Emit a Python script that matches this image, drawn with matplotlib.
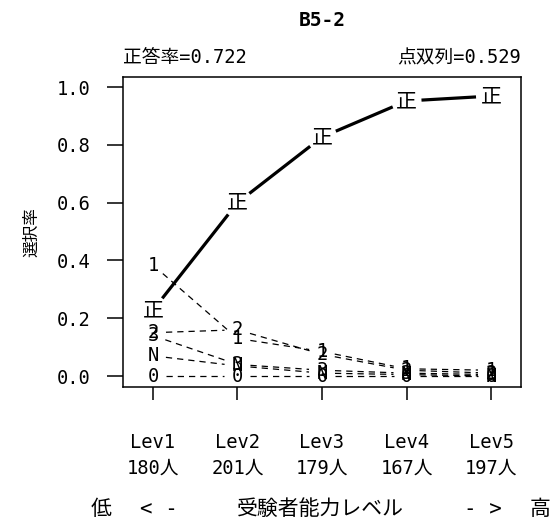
import numpy as np
import matplotlib.pyplot as plt

levels = ['Lev1', 'Lev2', 'Lev3', 'Lev4', 'Lev5']
counts = [180, 201, 179, 167, 197]
correct = [0.228, 0.600, 0.827, 0.952, 0.969]
opt1 = [0.384, 0.130, 0.085, 0.025, 0.020]
opt2 = [0.150, 0.160, 0.075, 0.020, 0.010]
opt3 = [0.140, 0.040, 0.020, 0.010, 0.005]
optN = [0.070, 0.035, 0.010, 0.005, 0.000]
opt0 = [0.000, 0.000, 0.000, 0.000, 0.000]
title = 'B5-2'
p_correct = 0.722
pbis = 0.529

mono = ['DejaVu Sans Mono', 'Noto Sans CJK JP']
cjk = ['Noto Sans CJK JP', 'DejaVu Sans']

fig = plt.figure(figsize=(5.59, 5.22), dpi=100)
ax = fig.add_axes([123 / 559, 1 - 387 / 522, 398 / 559, 310 / 522])
x = np.arange(1, len(levels) + 1)
ax.set_xlim(0.645, 5.355)
ax.set_ylim(-0.038, 1.035)


def gapped_line(xs, ys, gap, **kw):
    # R type="b": segments stop short of each label
    pts = ax.transData.transform(np.column_stack([xs, ys]))
    inv = ax.transData.inverted()
    for p, q in zip(pts[:-1], pts[1:]):
        d = q - p
        L = np.hypot(*d)
        if L <= 2 * gap:
            continue
        u = d / L
        seg = inv.transform([p + u * gap, q - u * gap])
        ax.plot(seg[:, 0], seg[:, 1], **kw)


series = [('1', opt1), ('2', opt2), ('3', opt3), ('N', optN), ('0', opt0)]
for lab, vals in series:
    gapped_line(x, vals, 13, color='black', lw=0.9, ls=(0, (5, 4)))
    for xi, yi in zip(x, vals):
        ax.text(xi, yi, lab, ha='center', va='center', fontsize=13.5,
                family=mono)

gapped_line(x, correct, 15, color='black', lw=2.3, solid_capstyle='butt')
for xi, yi in zip(x, correct):
    ax.text(xi, yi, '正', ha='center', va='center', fontsize=15, family=cjk)

ax.set_yticks([0.0, 0.2, 0.4, 0.6, 0.8, 1.0])
ax.set_yticklabels(['0.0', '0.2', '0.4', '0.6', '0.8', '1.0'], family=mono,
                   fontsize=13.5)
ax.set_xticks(x)
ax.set_xticklabels([f'{l}\n{c}人' for l, c in zip(levels, counts)],
                   family=mono, fontsize=13.5, linespacing=1.45)
ax.tick_params(axis='y', length=11.5, width=1.1, pad=12)
ax.tick_params(axis='x', length=9, width=1.1, pad=24)
for s in ax.spines.values():
    s.set_linewidth(1.1)

ax.set_ylabel('選択率', family=cjk, fontsize=12, labelpad=12)

fig.text(322 / 559, 1 - 20 / 522, title, ha='center', va='center',
         fontsize=14, fontweight='bold', family=mono)
fig.text(123 / 559, 1 - 58 / 522, f'正答率={p_correct:.3f}', ha='left',
         va='center', fontsize=13.5, family=mono)
fig.text(521 / 559, 1 - 58 / 522, f'点双列={pbis:.3f}', ha='right',
         va='center', fontsize=13.5, family=mono)

yb = 1 - 509 / 522
for xp, s in [(101, '低'), (159, '< -'), (320, '受験者能力レベル'),
              (483, '- >'), (540, '高')]:
    fig.text(xp / 559, yb, s, ha='center', va='center', fontsize=15,
             family=mono)

fig.savefig('out.png', dpi=100)
